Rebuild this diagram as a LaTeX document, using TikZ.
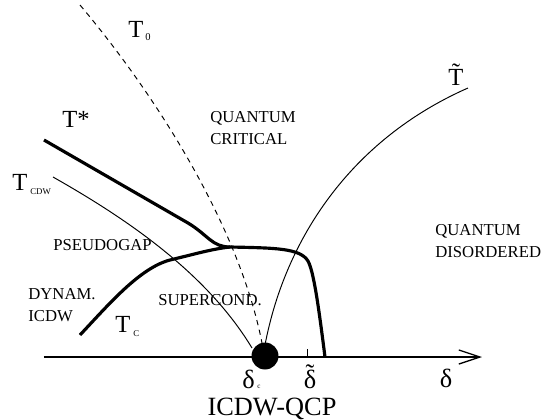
\documentclass[tikz,border=0pt]{standalone}
\usepackage{fontspec}
\setmainfont{Liberation Serif}
\usetikzlibrary{arrows.meta}
\begin{document}
\begin{tikzpicture}[
	x=0.02cm, y=-0.02cm,
	thickline/.style={line width=1.8pt, line join=round},
	thinline/.style={line width=0.55pt},
	dashline/.style={line width=0.55pt, dash pattern=on 3pt off 2.6pt},
	axisline/.style={line width=0.75pt, -{Straight Barb[length=12pt, width=8pt, line width=0.75pt]}},
	region/.style={font=\fontsize{9.5}{12}\selectfont, align=left, inner sep=0pt, anchor=base west},
	tlabel/.style={font=\fontsize{14}{16}\selectfont, inner sep=0pt, anchor=base west},
	dlabel/.style={font=\fontsize{15}{18}\selectfont, inner sep=0pt, anchor=base},
	subl/.style={font=\fontsize{5}{5}\selectfont, inner sep=0pt, anchor=base west}
]
\useasboundingbox (0,0) rectangle (549,420);

% Eje de dopaje
\coordinate (ax0) at (44,357);
\coordinate (ax1) at (482,357);
\draw[axisline] (ax0) -- (ax1);
\coordinate (dtil) at (307,357);
\draw[thinline] (dtil) -- ++(0,-8);

% Punto critico cuantico
\node[circle, fill=black, inner sep=0pt, minimum size=0.54cm] (qcp) at (265,356) {};

% Lineas de cruce
\draw[dashline] (80,5) .. controls (160,100) and (240,230) .. (262,343);
\draw[thinline] (53,177) .. controls (120,215) and (205,270) .. (252,348);
\draw[thinline] (265,345) .. controls (285,240) and (350,140) .. (468,88);

% T* y domo superconductor
\draw[thickline] (44,140) -- (188,223) .. controls (208,235) and (212,247) .. (230,247)
	.. controls (275,248) and (300,248) .. (308,261)
	.. controls (314,272) and (319,310) .. (325,357);
\draw[thickline] (80,335) .. controls (110,303) and (140,268) .. (170,260)
	.. controls (195,254) and (212,249) .. (230,247);

% Etiquetas de temperatura
\node[tlabel] (tzero) at (128,37) {T};
\node[subl, font=\fontsize{6}{6}\selectfont] (tzerosub) at (145,40) {0};
\node[tlabel] (tstar) at (62,127) {T*};
\node[tlabel] (ttil) at (448,85) {T̃};
\node[tlabel] (tcdw) at (12,190) {T};
\node[subl] (tcdwsub) at (30,194) {CDW};
\node[tlabel] (tc) at (115,332) {T};
\node[subl] (tcsub) at (133,336) {C};

% Regiones
\node[region] (qcrit) at (210,144) {QUANTUM\\CRITICAL};
\node[region] (qdis) at (435,257) {QUANTUM\\DISORDERED};
\node[region] (pgap) at (53,250) {PSEUDOGAP};
\node[region] (dicdw) at (28,321) {DYNAM.\\ICDW};
\node[region] (sc) at (158,305) {SUPERCOND.};

% Dopajes
\node[dlabel, anchor=base west] (dc) at (242,388) {δ};
\node[subl, font=\fontsize{4}{4}\selectfont] (dcsub) at (257,388) {c};
\node[dlabel] (dtlab) at (310,388) {\ooalign{δ\cr\hidewidth\raisebox{3pt}{˜}\hidewidth\cr}};
\node[dlabel] (dlab) at (446,387) {δ};
\node[dlabel] (qcplab) at (272,415) {ICDW-QCP};

\end{tikzpicture}
\end{document}
